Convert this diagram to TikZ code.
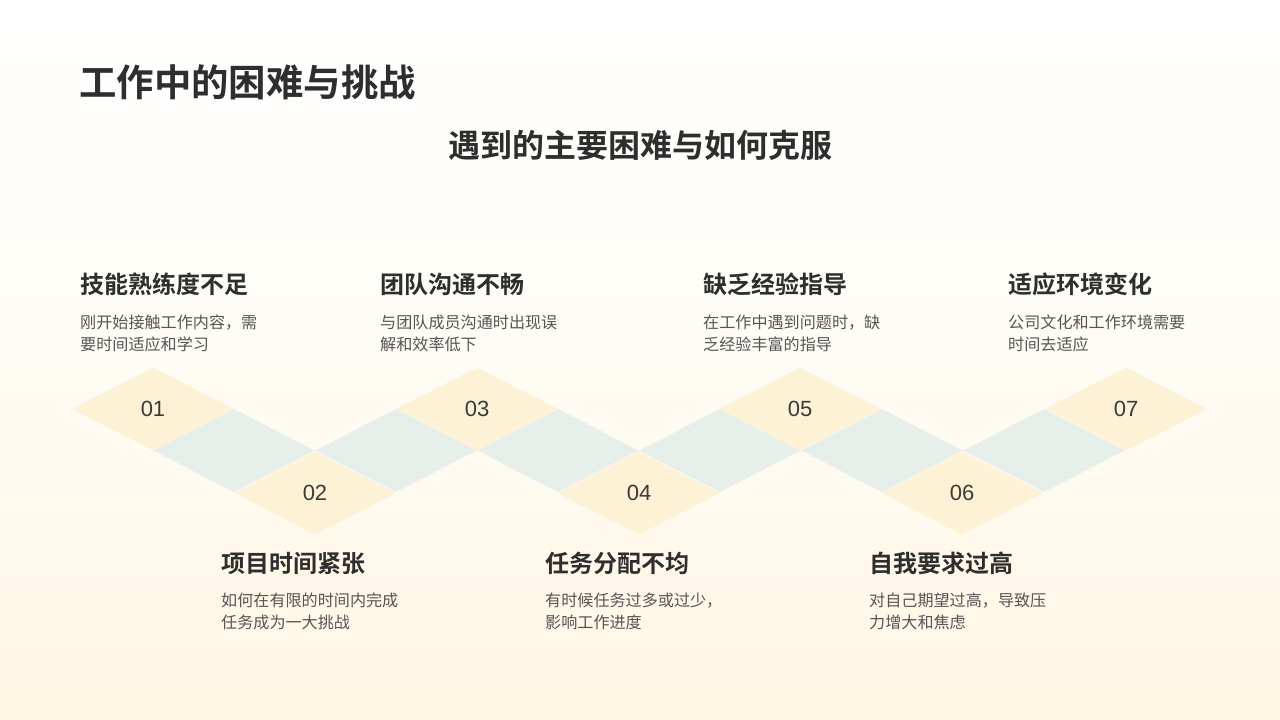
\documentclass[tikz,border=0pt]{standalone}
\usepackage{fontspec}
\usetikzlibrary{shapes.geometric}
\newfontfamily\cjk{Noto Sans CJK SC}
\newfontfamily\cjkb{Noto Sans CJK SC Bold}
\newfontfamily\numfont{Liberation Sans}
\definecolor{bgbot}{HTML}{FFF6E3}
\definecolor{bgmid}{HTML}{FFFCF5}
\definecolor{ydia}{HTML}{FEF2D6}
\definecolor{bdia}{HTML}{E7EFEB}
\definecolor{headc}{HTML}{2E2E2E}
\definecolor{descc}{HTML}{555555}
\definecolor{numc}{HTML}{3A3A3A}
\tikzset{
  ydiam/.style={diamond, fill=ydia, draw=none, minimum width=162pt, minimum height=83pt, inner sep=0pt, font=\numfont\fontsize{22}{22}\selectfont, text=numc},
  bdiam/.style={diamond, fill=bdia, draw=none, minimum width=162pt, minimum height=83pt, inner sep=0pt},
  head/.style={anchor=west, inner sep=0pt, font=\cjkb\fontsize{24}{24}\selectfont, text=headc},
  desc/.style={anchor=west, inner sep=0pt, align=left, font=\cjk\fontsize{16.1}{22}\selectfont, text=descc},
}
\begin{document}
\begin{tikzpicture}[x=1pt,y=-1pt]
\useasboundingbox (0,0) rectangle (1280,720);
\shade[top color=white, bottom color=bgbot, middle color=bgmid] (0,0) rectangle (1280,720);
% title
\node[anchor=west, inner sep=0pt, font=\cjkb\fontsize{37.4}{37.4}\selectfont, text=headc] (title) at (79,82) {工作中的困难与挑战};
\node[inner sep=0pt, font=\cjkb\fontsize{32}{32}\selectfont, text=headc] (subtitle) at (640,145) {遇到的主要困难与如何克服};
% blue diamonds
\foreach \j in {1,...,6} {
  \node[bdiam] (b\j) at ({234+162*(\j-1)},450.5) {};
}
% yellow diamonds
\node[ydiam] (d1) at (153,409) {01};
\node[ydiam] (d2) at (315,493) {02};
\node[ydiam] (d3) at (477,409) {03};
\node[ydiam] (d4) at (639,493) {04};
\node[ydiam] (d5) at (800,409) {05};
\node[ydiam] (d6) at (962,493) {06};
\node[ydiam] (d7) at (1126,409) {07};
% top texts
\node[head] (h1) at (80,284) {技能熟练度不足};
\node[desc] (t1) at (80,333) {刚开始接触工作内容，需\\要时间适应和学习};
\node[head] (h3) at (380,284) {团队沟通不畅};
\node[desc] (t3) at (380,333) {与团队成员沟通时出现误\\解和效率低下};
\node[head] (h5) at (703,284) {缺乏经验指导};
\node[desc] (t5) at (703,333) {在工作中遇到问题时，缺\\乏经验丰富的指导};
\node[head] (h7) at (1008,284) {适应环境变化};
\node[desc] (t7) at (1008,333) {公司文化和工作环境需要\\时间去适应};
% bottom texts
\node[head] (h2) at (221,563) {项目时间紧张};
\node[desc] (t2) at (221,611) {如何在有限的时间内完成\\任务成为一大挑战};
\node[head] (h4) at (545,563) {任务分配不均};
\node[desc] (t4) at (545,611) {有时候任务过多或过少，\\影响工作进度};
\node[head] (h6) at (869,563) {自我要求过高};
\node[desc] (t6) at (869,611) {对自己期望过高，导致压\\力增大和焦虑};
\end{tikzpicture}
\end{document}
